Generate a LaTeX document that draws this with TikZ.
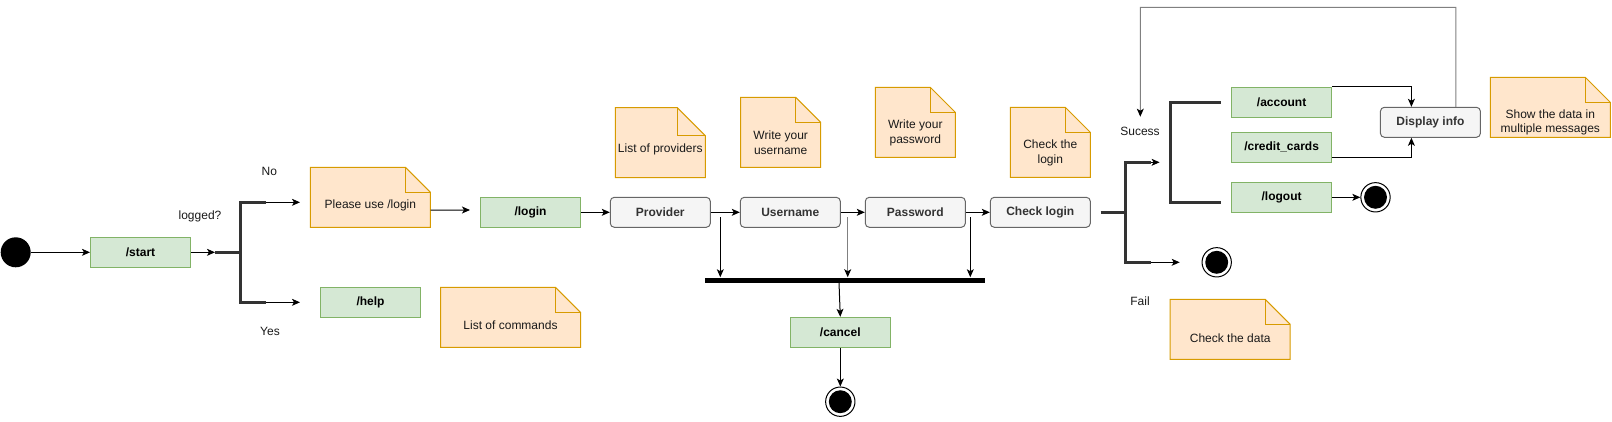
\documentclass[tikz,border=0pt]{standalone}
\usepackage{fontspec}
\setmainfont{Liberation Sans}
\usetikzlibrary{arrows.meta,calc}
\definecolor{gfill}{HTML}{D5E8D4}
\definecolor{gline}{HTML}{82B366}
\definecolor{nfill}{HTML}{FFE6CC}
\definecolor{nline}{HTML}{D79B00}
\definecolor{bfill}{HTML}{F5F5F5}
\definecolor{bline}{HTML}{666666}
\definecolor{btext}{HTML}{333333}
\definecolor{loopgray}{HTML}{808080}
\newcommand\diafont{\fontsize{9}{10.75}\selectfont}
\tikzset{
  cmdbox/.style={draw=gline, fill=gfill, line width=0.75pt, minimum width=75pt, minimum height=22.5pt, inner sep=0pt, font=\diafont\bfseries},
  actbox/.style={draw=bline, fill=bfill, line width=0.75pt, rounded corners=3pt, minimum width=75pt, minimum height=22.5pt, inner sep=0pt, font=\diafont\bfseries, text=btext},
  notetext/.style={align=center, inner sep=0pt, font=\diafont, text=black!90},
  lbl/.style={inner sep=0pt, font=\diafont, text=black!90},
  arr/.style={-{Stealth[length=6pt,width=5.2pt,inset=1.5pt]}, line width=0.75pt},
  thin/.style={line width=0.75pt},
  bracket/.style={line width=2.25pt, draw=black!80},
  startdot/.style={circle, fill=black, minimum size=22.5pt, inner sep=0pt},
  enddot/.style={circle, draw=black, fill=white, line width=0.75pt, minimum size=22pt, inner sep=0pt,
    path picture={\fill[black] (path picture bounding box.center) circle (8.6pt);}},
}
% name, x, y, w, h, fold, text-center-y, text
\newcommand\notebox[8]{%
  \filldraw[fill=nfill, draw=nline, line width=0.75pt] (#2,#3) -- ++({#4-#6},0) -- ++(#6,#6) -- ++(0,{#5-#6}) -- ++(-#4,0) -- cycle;
  \draw[nline, line width=0.75pt] ({#2+#4-#6},#3) -- ++(0,#6) -- ++(#6,0);
  \node[minimum width={#4*0.75pt}, minimum height={#5*0.75pt}, inner sep=0pt] (#1) at ({#2+#4/2},{#3+#5/2}) {};
  \node[notetext] (#1-t) at ({#2+#4/2},#7) {#8};
}
\begin{document}
\begin{tikzpicture}[x=0.75pt, y=-0.75pt]
\useasboundingbox (0,0) rectangle (1612,421);

% ---------- notes ----------
\notebox{pnote}{310.4}{167.3}{120}{60}{25}{205.7}{Please use /login}
\notebox{lnote}{440.5}{287.3}{140}{60}{25}{325.7}{List of commands}
\notebox{provnote}{615.3}{107.7}{90}{70}{28}{149.3}{List of providers}
\notebox{usernote}{740.7}{97.3}{80}{70}{25}{142.7}{Write your\\username}
\notebox{passnote}{875.3}{87.3}{80}{70}{25}{132.8}{Write your\\password}
\notebox{checknote}{1010.3}{107.3}{80}{70}{25}{152.8}{Check the\\login}
\notebox{datanote}{1170.2}{299.3}{120}{60}{25}{338.3}{Check the data}
\notebox{shownote}{1490.3}{77.3}{120}{60}{25}{122.7}{Show the data in\\multiple messages}

% ---------- nodes ----------
\node[startdot] (init) at (15.7,252.3) {};
\node[cmdbox] (start) at (140.5,252.3) {/start};
\node[cmdbox] (login) at (530.5,212.3) {/login};
\node[cmdbox] (help) at (370.5,302.3) {/help};
\node[actbox] (provider) at (660.3,212.3) {Provider};
\node[actbox] (username) at (790.3,212.3) {Username};
\node[actbox] (password) at (915.3,212.3) {Password};
\node[actbox] (check) at (1040.3,212.3) {Check login};
\node[fill=black, minimum width=210pt, minimum height=3.75pt, inner sep=0pt] (bar) at (845.3,280) {};
\node[cmdbox] (cancel) at (840.3,332.3) {/cancel};
\node[enddot] (endcancel) at (840.3,401.7) {};
\node[cmdbox] (account) at (1281.6,102.3) {/account};
\node[cmdbox] (credit) at (1281.6,147.3) {/credit\_cards};
\node[cmdbox] (logout) at (1281.6,197.3) {/logout};
\node[actbox] (display) at (1430.4,122.3) {Display info};
\node[enddot] (endlogout) at (1375.5,197.3) {};
\node[enddot] (endfail) at (1216.7,262.3) {};

% labels
\node[lbl] (logged) at (200,216.7) {logged?};
\node[lbl] (no) at (269.3,171.7) {No};
\node[lbl] (yes) at (270,331.7) {Yes};
\node[lbl] (sucess) at (1140,131.7) {Sucess};
\node[lbl] (fail) at (1140,301.7) {Fail};

% ---------- first decision ----------
\coordinate (f1) at (215,252.3);
\coordinate (f1no) at (266,202.3);
\coordinate (f1yes) at (266,302.3);
\coordinate (f1noend) at (300,202.3);
\coordinate (f1yesend) at (300,302.3);
\draw[arr] (init.east) -- (start.west);
\draw[arr] (start.east) -- (f1);
\draw[bracket] (f1) -- (240,252.3);
\draw[bracket] (f1no) -| (240,302.3) -- (f1yes);
\draw[arr] (f1no) -- (f1noend);
\draw[arr] (f1yes) -- (f1yesend);

% ---------- login flow ----------
\draw[arr] ($(pnote.east)+(0,12.7)$) -- ($(login.west)+(-10,-2.3)$);
\draw[arr] (login.east) -- (provider.west);
\draw[arr] (provider.east) -- (username.west);
\draw[arr] (username.east) -- (password.west);
\draw[arr] (password.east) -- (check.west);

\coordinate (v1) at (720.3,217.3);
\coordinate (v2) at (847.7,217.3);
\coordinate (v3) at (970.3,217.3);
\draw[arr] (v1) -- (v1 |- bar.north);
\draw[arr, draw=loopgray, -{Stealth[length=6pt,width=5.2pt,inset=1.5pt,color=black]}] (v2) -- (v2 |- bar.north);
\draw[arr] (v3) -- (v3 |- bar.north);
\draw[arr] ($(bar.south)+(-6.3,0)$) -- (cancel.north);
\draw[arr] (cancel.south) -- (endcancel.north);

% ---------- second decision ----------
\coordinate (f2) at (1100.5,212.3);
\coordinate (f2s) at (1150.8,162.3);
\coordinate (f2f) at (1150.8,262.3);
\coordinate (f2send) at (1159.6,162.3);
\coordinate (f2fend) at (1179.7,262.3);
\draw[bracket] (f2) -- (1125,212.3);
\draw[bracket] (f2s) -| (1125,262.3) -- (f2f);
\draw[arr] (f2s) -- (f2send);
\draw[arr] (f2f) -- (f2fend);

\coordinate (b2top) at (1220.6,102.3);
\coordinate (b2bot) at (1220.6,202.3);
\draw[bracket] (b2top) -| (1170.2,202.3) -- (b2bot);

% ---------- commands ----------
\draw[arr] (account.north east) -| ($(display.north)+(-19,0)$);
\draw[arr] ($(credit.east)+(0,10)$) -| ($(display.south)+(-19,0)$);
\draw[arr] (logout.east) -- (endlogout.west);
\coordinate (loopend) at (1140.3,116.7);
\draw[thin, draw=loopgray, -{Stealth[length=6pt,width=5.2pt,inset=1.5pt,color=black]}] ($(display.north)+(25.4,0)$) -- (1455.8,7.3) -| (loopend);
\end{tikzpicture}
\end{document}
